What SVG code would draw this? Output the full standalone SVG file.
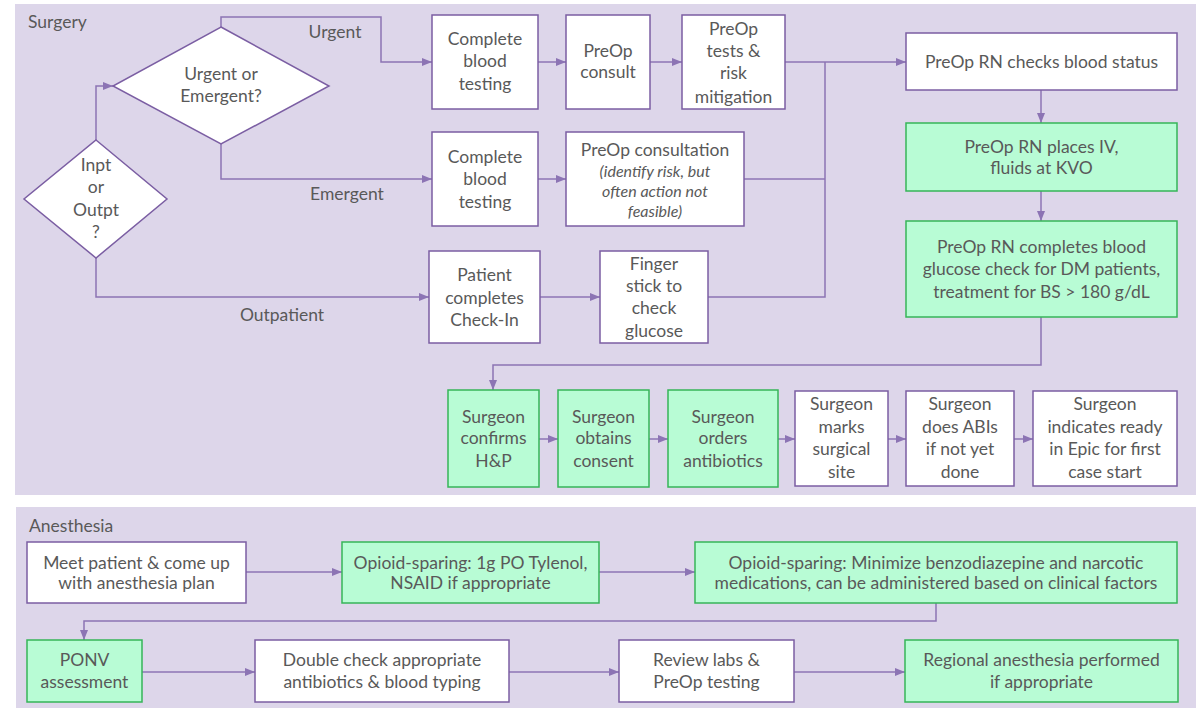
<svg xmlns="http://www.w3.org/2000/svg" width="1200" height="708" viewBox="0 0 1200 708">
<style>
.panel{fill:#ddd6ea;stroke:none}
.box{fill:#ffffff;stroke:#7b5ea3;stroke-width:1.5}
.gbox{fill:#b8fcd5;stroke:#36b558;stroke-width:1.5}
.dia{fill:#ffffff;stroke:#7b5ea3;stroke-width:1.5}
.t{font-family:Lato,"Liberation Sans",sans-serif;font-size:17.5px;fill:#595959;text-anchor:middle}
.ti{font-family:Lato,"Liberation Sans",sans-serif;font-size:16px;font-style:italic;fill:#595959;text-anchor:middle}
.lbl{font-family:Lato,"Liberation Sans",sans-serif;font-size:17.5px;fill:#595959}
.c{fill:none;stroke:#8c74b4;stroke-width:1.5}
.ca{fill:none;stroke:#8c74b4;stroke-width:1.5;marker-end:url(#ah)}
</style>
<defs>
<marker id="ah" markerUnits="userSpaceOnUse" viewBox="0 0 10 10" refX="10" refY="5" markerWidth="10" markerHeight="10" orient="auto">
<path d="M0,1 L10,5 L0,9 z" fill="#8c74b4"/>
</marker>
</defs>

<rect class="panel" x="15" y="4" width="1181" height="491"/>
<rect class="panel" x="16" y="507" width="1180" height="201"/>
<text class="lbl" x="28" y="28">Surgery</text>
<text class="lbl" x="29" y="532">Anesthesia</text>

<g id="connectors">
<polyline class="ca" points="96,140 96,86 113,86"/>
<polyline class="ca" points="221,27 221,17 381,17 381,62 432,62"/>
<polyline class="ca" points="221,144 221,179 432,179"/>
<polyline class="ca" points="96,258 96,297 429,297"/>
<line class="ca" x1="538" y1="62" x2="566" y2="62"/>
<line class="ca" x1="650" y1="62" x2="682" y2="62"/>
<line class="ca" x1="538" y1="179" x2="566" y2="179"/>
<line class="ca" x1="540" y1="297" x2="600" y2="297"/>
<line class="ca" x1="785" y1="62" x2="906" y2="62"/>
<polyline class="c" points="744,179 825,179"/>
<polyline class="c" points="708,297 825,297 825,62"/>
<line class="ca" x1="1041" y1="90" x2="1041" y2="123"/>
<line class="ca" x1="1041" y1="191" x2="1041" y2="221"/>
<polyline class="ca" points="1041,317 1041,365 493,365 493,390"/>
<line class="ca" x1="539" y1="439" x2="558" y2="439"/>
<line class="ca" x1="649" y1="439" x2="668" y2="439"/>
<line class="ca" x1="778" y1="439" x2="795" y2="439"/>
<line class="ca" x1="888" y1="439" x2="906" y2="439"/>
<line class="ca" x1="1014" y1="439" x2="1033" y2="439"/>
<line class="ca" x1="246" y1="572" x2="342" y2="572"/>
<line class="ca" x1="599" y1="572" x2="695" y2="572"/>
<polyline class="ca" points="936,603 936,621 84,621 84,640"/>
<line class="ca" x1="142" y1="672" x2="255" y2="672"/>
<line class="ca" x1="509" y1="672" x2="619" y2="672"/>
<line class="ca" x1="794" y1="672" x2="905" y2="672"/>
<text class="lbl" x="335" y="38" text-anchor="middle">Urgent</text>
<text class="lbl" x="347" y="200" text-anchor="middle">Emergent</text>
<text class="lbl" x="282" y="321" text-anchor="middle">Outpatient</text>
</g>

<g id="urgent-decision">
<polygon class="dia" points="221,27 329,86 221,144 113,86"/>
<text class="t"><tspan x="221" y="80">Urgent or</tspan><tspan x="221" y="102">Emergent?</tspan></text>
</g>
<g id="inpt-decision">
<polygon class="dia" points="96,140 167,199 96,258 24,199"/>
<text class="t"><tspan x="96" y="171">Inpt</tspan><tspan x="96" y="193">or</tspan><tspan x="96" y="216">Outpt</tspan><tspan x="96" y="238">?</tspan></text>
</g>
<g id="cbt1">
<rect class="box" x="432" y="15" width="106" height="94"/>
<text class="t"><tspan x="485" y="45">Complete</tspan><tspan x="485" y="67">blood</tspan><tspan x="485" y="90">testing</tspan></text>
</g>
<g id="preop-consult">
<rect class="box" x="566" y="15" width="84" height="94"/>
<text class="t"><tspan x="608" y="57">PreOp</tspan><tspan x="608" y="78">consult</tspan></text>
</g>
<g id="preop-tests">
<rect class="box" x="682" y="15" width="103" height="94"/>
<text class="t"><tspan x="733.5" y="35">PreOp</tspan><tspan x="733.5" y="57">tests &amp;</tspan><tspan x="733.5" y="79">risk</tspan><tspan x="733.5" y="103">mitigation</tspan></text>
</g>
<g id="cbt2">
<rect class="box" x="432" y="132" width="106" height="94"/>
<text class="t"><tspan x="485" y="163">Complete</tspan><tspan x="485" y="185">blood</tspan><tspan x="485" y="208">testing</tspan></text>
</g>
<g id="preop-consultation">
<rect class="box" x="566" y="132" width="178" height="94"/>
<text class="t" x="655" y="156">PreOp consultation</text>
<text class="ti"><tspan x="655" y="177">(identify risk, but</tspan><tspan x="655" y="197">often action not</tspan><tspan x="655" y="217">feasible)</tspan></text>
</g>
<g id="checkin">
<rect class="box" x="429" y="251" width="111" height="92"/>
<text class="t"><tspan x="484.5" y="281">Patient</tspan><tspan x="484.5" y="304">completes</tspan><tspan x="484.5" y="326">Check-In</tspan></text>
</g>
<g id="finger-stick">
<rect class="box" x="600" y="251" width="108" height="92"/>
<text class="t"><tspan x="654" y="270">Finger</tspan><tspan x="654" y="292">stick to</tspan><tspan x="654" y="314">check</tspan><tspan x="654" y="337">glucose</tspan></text>
</g>
<g id="rn-checks">
<rect class="box" x="906" y="33" width="271" height="57"/>
<text class="t" x="1041.5" y="68">PreOp RN checks blood status</text>
</g>
<g id="rn-iv">
<rect class="gbox" x="906" y="123" width="271" height="68"/>
<text class="t"><tspan x="1041.5" y="153">PreOp RN places IV,</tspan><tspan x="1041.5" y="174">fluids at KVO</tspan></text>
</g>
<g id="rn-glucose">
<rect class="gbox" x="906" y="221" width="271" height="96"/>
<text class="t"><tspan x="1041.5" y="253">PreOp RN completes blood</tspan><tspan x="1041.5" y="275">glucose check for DM patients,</tspan><tspan x="1041.5" y="298">treatment for BS &gt; 180 g/dL</tspan></text>
</g>
<g id="surgeon-hp">
<rect class="gbox" x="448" y="390" width="91" height="97"/>
<text class="t"><tspan x="493.5" y="423">Surgeon</tspan><tspan x="493.5" y="444">confirms</tspan><tspan x="493.5" y="467">H&amp;P</tspan></text>
</g>
<g id="surgeon-consent">
<rect class="gbox" x="558" y="390" width="91" height="97"/>
<text class="t"><tspan x="603.5" y="423">Surgeon</tspan><tspan x="603.5" y="444">obtains</tspan><tspan x="603.5" y="467">consent</tspan></text>
</g>
<g id="surgeon-antibiotics">
<rect class="gbox" x="668" y="390" width="110" height="97"/>
<text class="t"><tspan x="723" y="423">Surgeon</tspan><tspan x="723" y="444">orders</tspan><tspan x="723" y="467">antibiotics</tspan></text>
</g>
<g id="surgeon-marks">
<rect class="box" x="795" y="391" width="93" height="95"/>
<text class="t"><tspan x="841.5" y="410">Surgeon</tspan><tspan x="841.5" y="433">marks</tspan><tspan x="841.5" y="455">surgical</tspan><tspan x="841.5" y="478">site</tspan></text>
</g>
<g id="surgeon-abis">
<rect class="box" x="906" y="391" width="108" height="95"/>
<text class="t"><tspan x="960" y="410">Surgeon</tspan><tspan x="960" y="433">does ABIs</tspan><tspan x="960" y="455">if not yet</tspan><tspan x="960" y="478">done</tspan></text>
</g>
<g id="surgeon-ready">
<rect class="box" x="1033" y="391" width="144" height="95"/>
<text class="t"><tspan x="1105" y="410">Surgeon</tspan><tspan x="1105" y="433">indicates ready</tspan><tspan x="1105" y="455">in Epic for first</tspan><tspan x="1105" y="478">case start</tspan></text>
</g>
<g id="meet-patient">
<rect class="box" x="27" y="542" width="219" height="61"/>
<text class="t"><tspan x="136.5" y="569">Meet patient &amp; come up</tspan><tspan x="136.5" y="589">with anesthesia plan</tspan></text>
</g>
<g id="opioid-1">
<rect class="gbox" x="342" y="542" width="257" height="61"/>
<text class="t"><tspan x="470.5" y="569">Opioid-sparing: 1g PO Tylenol,</tspan><tspan x="470.5" y="589">NSAID if appropriate</tspan></text>
</g>
<g id="opioid-2">
<rect class="gbox" x="695" y="542" width="482" height="61"/>
<text class="t"><tspan x="936" y="569">Opioid-sparing: Minimize benzodiazepine and narcotic</tspan><tspan x="936" y="589">medications, can be administered based on clinical factors</tspan></text>
</g>
<g id="ponv">
<rect class="gbox" x="27" y="640" width="115" height="62"/>
<text class="t"><tspan x="84.5" y="666">PONV</tspan><tspan x="84.5" y="688">assessment</tspan></text>
</g>
<g id="double-check">
<rect class="box" x="255" y="640" width="254" height="62"/>
<text class="t"><tspan x="382" y="666">Double check appropriate</tspan><tspan x="382" y="688">antibiotics &amp; blood typing</tspan></text>
</g>
<g id="review-labs">
<rect class="box" x="619" y="640" width="175" height="62"/>
<text class="t"><tspan x="706.5" y="666">Review labs &amp;</tspan><tspan x="706.5" y="688">PreOp testing</tspan></text>
</g>
<g id="regional">
<rect class="gbox" x="905" y="640" width="273" height="62"/>
<text class="t"><tspan x="1041.5" y="666">Regional anesthesia performed</tspan><tspan x="1041.5" y="688">if appropriate</tspan></text>
</g>
</svg>
